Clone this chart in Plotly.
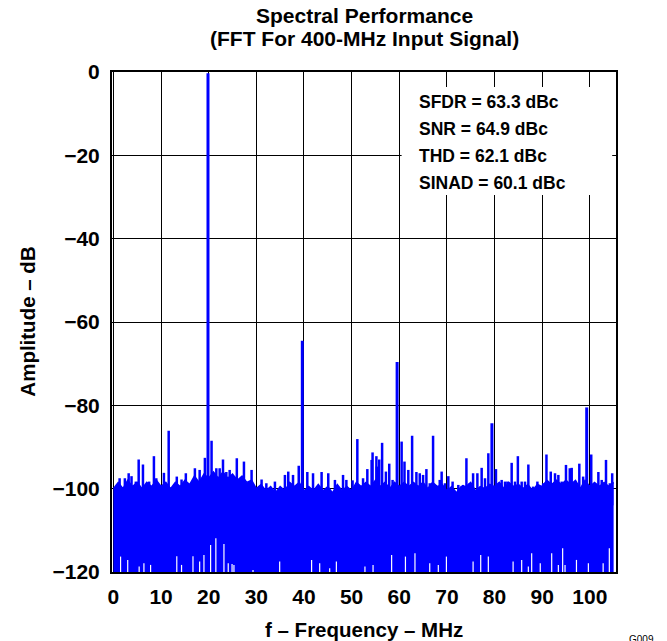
import plotly.graph_objects as go

# ---------------- data ----------------
# fundamental and harmonics (MHz, dB)
tone_freq = [19.85, 39.65, 59.55, 79.45, 99.35]
tone_db = [-0.3, -64.5, -69.6, -84.3, -80.5]

# spurs / noise spikes sticking out of the dense floor (MHz, dB)
spur_freq = [1.3, 2.4, 3.2, 3.8, 4.7, 5.3, 6.2, 7.5, 8.5, 9.0,
             10.6, 11.6, 13.3, 14.3, 15.2, 17.1, 18.1, 19.2, 20.6, 21.6,
             22.3, 23.0, 23.7, 24.4, 25.3, 25.9, 27.4, 27.9, 29.0, 31.1,
             32.1, 33.9, 36.0, 36.7, 37.7, 38.9, 40.7, 41.9, 43.7, 45.1,
             46.5, 48.2, 48.9, 50.2, 51.2, 52.4, 53.3, 54.2, 54.4, 55.2,
             55.3, 55.8, 56.4, 57.2, 57.9, 58.6, 60.5, 61.1, 61.9, 62.7,
             63.6, 64.3, 65.0, 65.7, 66.4, 67.1, 68.5, 68.9, 69.6, 70.3,
             71.2, 72.4, 73.4, 74.1, 74.8, 75.5, 76.4, 77.3, 78.0, 78.7,
             80.3, 81.5, 82.2, 82.7, 83.6, 84.3, 84.9, 85.7, 86.4, 87.1,
             88.1, 89.0, 90.2, 90.9, 91.8, 92.7, 93.4, 94.1, 95.0, 95.8,
             96.2, 97.8, 98.6, 100.3, 101.1, 101.8, 102.5, 103.4, 104.2, 104.7]
spur_db = [-97.5, -97.5, -96.3, -97.0, -98.3, -93.0, -94.2, -98.3, -92.2, -97.5,
           -96.2, -86.1, -97.1, -97.8, -96.3, -95.1, -95.5, -92.6, -88.5, -95.1,
           -95.1, -93.0, -96.0, -95.5, -97.1, -92.7, -93.5, -98.7, -95.5, -97.8,
           -98.7, -98.3, -96.7, -95.9, -96.7, -94.5, -96.0, -96.3, -96.0, -96.3,
           -97.9, -96.7, -97.9, -98.0, -88.1, -97.5, -95.3, -93.1, -91.3, -92.2,
           -94.7, -93.0, -89.0, -95.9, -94.0, -97.9, -88.7, -93.5, -95.5, -87.3,
           -96.0, -96.3, -96.7, -95.3, -98.7, -87.3, -97.9, -95.9, -98.7, -97.0,
           -98.3, -99.1, -99.1, -92.7, -98.7, -96.3, -96.3, -95.0, -97.5, -91.5,
           -95.3, -97.9, -98.3, -98.3, -93.8, -98.3, -92.2, -98.3, -98.3, -94.2,
           -99.5, -98.3, -98.7, -91.8, -95.9, -96.3, -96.7, -98.3, -94.3, -95.1,
           -95.0, -94.0, -97.1, -91.8, -98.7, -96.0, -97.9, -93.1, -98.7, -96.3]

# top of the solid noise floor, one value per MHz (0 ... 105)
noise_freq = list(range(0, 106))
noise_top = [-100.0, -98.5, -100.0, -98.0, -99.5, -98.5, -100.0, -98.5, -99.5, -98.0,
             -99.5, -98.5, -100.0, -98.5, -99.5, -98.0, -99.0, -97.0, -98.5, -96.5,
             -97.5, -96.0, -97.5, -96.0, -97.5, -96.5, -98.0, -97.0, -98.5, -98.0,
             -100.0, -99.0, -100.5, -99.5, -101.0, -99.5, -100.5, -98.5, -99.5, -98.5,
             -100.5, -99.5, -100.5, -99.0, -100.5, -99.5, -101.0, -99.0, -100.5, -99.5,
             -100.5, -98.5, -99.5, -98.5, -99.5, -98.0, -99.5, -98.5, -100.0, -98.5,
             -99.5, -98.5, -99.5, -98.5, -99.5, -98.5, -100.0, -98.5, -99.5, -99.0,
             -100.5, -99.5, -101.0, -99.5, -99.5, -98.5, -100.5, -99.5, -100.0, -99.0,
             -99.5, -98.5, -100.0, -98.5, -99.5, -99.0, -100.0, -99.0, -100.5, -99.0,
             -99.5, -98.0, -99.0, -98.0, -99.0, -98.0, -99.0, -98.0, -100.0, -98.0,
             -99.5, -98.5, -99.5, -98.5, -99.5, -98.5]

# deep notches of the noise (white slivers at the bottom): frequency, top of the gap (dB)
gap_freq = [1.5, 3.0, 5.4, 6.4, 7.8, 13.3, 14.3, 16.7, 18.1, 19.0,
            20.4, 21.5, 23.2, 24.1, 24.9, 25.3, 29.3, 34.9, 41.6, 43.3,
            45.4, 46.8, 52.8, 54.5, 58.4, 61.3, 63.3, 66.4, 68.2, 69.9,
            75.5, 77.1, 78.7, 83.9, 85.7, 87.1, 87.8, 89.6, 92.0, 93.4,
            94.3, 94.8, 97.2, 99.7, 102.8, 104.1]
gap_db = [-116.3, -117.1, -118.7, -117.9, -118.3, -116.2, -118.3, -116.2, -117.5, -115.9,
          -113.5, -111.9, -113.3, -117.9, -118.1, -118.3, -119.5, -117.5, -117.1, -117.9,
          -119.1, -117.5, -118.7, -118.3, -115.9, -116.3, -115.5, -117.9, -118.3, -116.3,
          -117.5, -115.9, -116.3, -117.5, -117.1, -118.7, -115.5, -117.9, -115.5, -118.3,
          -114.3, -118.3, -117.1, -117.9, -117.9, -114.3]

floor_db = -120

x_ticks = [0, 10, 20, 30, 40, 50, 60, 70, 80, 90, 100]
y_ticks = [0, -20, -40, -60, -80, -100, -120]
y_tick_text = ["0", "\u221220", "\u221240", "\u221260", "\u221280", "\u2212100", "\u2212120"]

stats = ["SFDR = 63.3 dBc", "SNR = 64.9 dBc", "THD = 62.1 dBc", "SINAD = 60.1 dBc"]

BLUE = "#0000FF"
FONT = "Liberation Sans, Arial, sans-serif"

fig = go.Figure()

# noise floor band
fig.add_trace(go.Scatter(x=noise_freq, y=[floor_db] * len(noise_freq), mode="lines",
                         line=dict(width=0, color=BLUE), hoverinfo="skip", showlegend=False))
fig.add_trace(go.Scatter(x=noise_freq, y=noise_top, mode="lines", fill="tonexty",
                         fillcolor=BLUE, line=dict(width=1.5, color=BLUE), showlegend=False))


def sticks(freqs, dbs, base):
    xs, ys = [], []
    for f, a in zip(freqs, dbs):
        xs += [f, f, None]
        ys += [base, a, None]
    return xs, ys


gx, gy = sticks(gap_freq, gap_db, floor_db)
fig.add_trace(go.Scatter(x=gx, y=gy, mode="lines", line=dict(width=1.2, color="white"),
                         showlegend=False))
sx, sy = sticks(spur_freq, spur_db, -104)
fig.add_trace(go.Scatter(x=sx, y=sy, mode="lines", line=dict(width=2.5, color=BLUE),
                         showlegend=False))
tx, ty = sticks(tone_freq, tone_db, -110)
fig.add_trace(go.Scatter(x=tx, y=ty, mode="lines", line=dict(width=3, color=BLUE),
                         showlegend=False))

# white box behind the statistics text
fig.add_shape(type="rect", xref="x", yref="y", x0=60.5, x1=104.7, y0=-29.5, y1=-3.6,
              fillcolor="white", line=dict(width=0), layer="between")

line_y = [102, 129, 156, 183]
for txt, py in zip(stats, line_y):
    fig.add_annotation(text=txt, xref="paper", yref="paper",
                       x=(417 - 112.3) / 503.7, y=(572 - py) / 500,
                       xanchor="left", yanchor="middle", showarrow=False,
                       font=dict(family=FONT, size=17.5, color="black", weight="bold"))

# title (two lines)
fig.add_annotation(text="Spectral Performance", xref="paper", yref="paper",
                   x=0.5, y=(572 - 16) / 500, xanchor="center", yanchor="middle",
                   showarrow=False, font=dict(family=FONT, size=21, color="black", weight="bold"))
fig.add_annotation(text="(FFT For 400-MHz Input Signal)", xref="paper", yref="paper",
                   x=0.5, y=(572 - 39) / 500, xanchor="center", yanchor="middle",
                   showarrow=False, font=dict(family=FONT, size=21, color="black", weight="bold"))

# axis titles
fig.add_annotation(text="f \u2013 Frequency \u2013 MHz", xref="paper", yref="paper",
                   x=0.5, y=(572 - 629) / 500, xanchor="center", yanchor="middle",
                   showarrow=False, font=dict(family=FONT, size=20.5, color="black", weight="bold"))
fig.add_annotation(text="Amplitude \u2013 dB", xref="paper", yref="paper",
                   x=(27 - 112.3) / 503.7, y=0.5, xanchor="center", yanchor="middle",
                   textangle=-90, showarrow=False,
                   font=dict(family=FONT, size=20.5, color="black", weight="bold"))

fig.add_annotation(text="G009", xref="paper", yref="paper", x=(627 - 112.3) / 503.7,
                   y=(572 - 632) / 500, xanchor="left", yanchor="top", showarrow=False,
                   font=dict(family=FONT, size=10, color="black"))

fig.update_layout(
    width=667, height=641,
    margin=dict(l=112, r=51, t=72, b=69),
    paper_bgcolor="white", plot_bgcolor="white",
    font=dict(family=FONT, color="black"),
    xaxis=dict(range=[-0.3, 105.5], tickvals=x_ticks, ticktext=[str(v) for v in x_ticks],
               showgrid=True, gridcolor="black", gridwidth=1.3,
               showline=True, linecolor="black", linewidth=2, mirror=True,
               ticks="", zeroline=False, ticklabelstandoff=5, automargin=False,
               tickfont=dict(family=FONT, size=21, color="black", weight="bold")),
    yaxis=dict(range=[-120, 0], tickvals=y_ticks, ticktext=y_tick_text,
               showgrid=True, gridcolor="black", gridwidth=1.3,
               showline=True, linecolor="black", linewidth=2, mirror=True,
               ticks="", zeroline=False, ticklabelstandoff=6, automargin=False,
               tickfont=dict(family=FONT, size=21, color="black", weight="bold")),
)

fig.write_html("out.html")
